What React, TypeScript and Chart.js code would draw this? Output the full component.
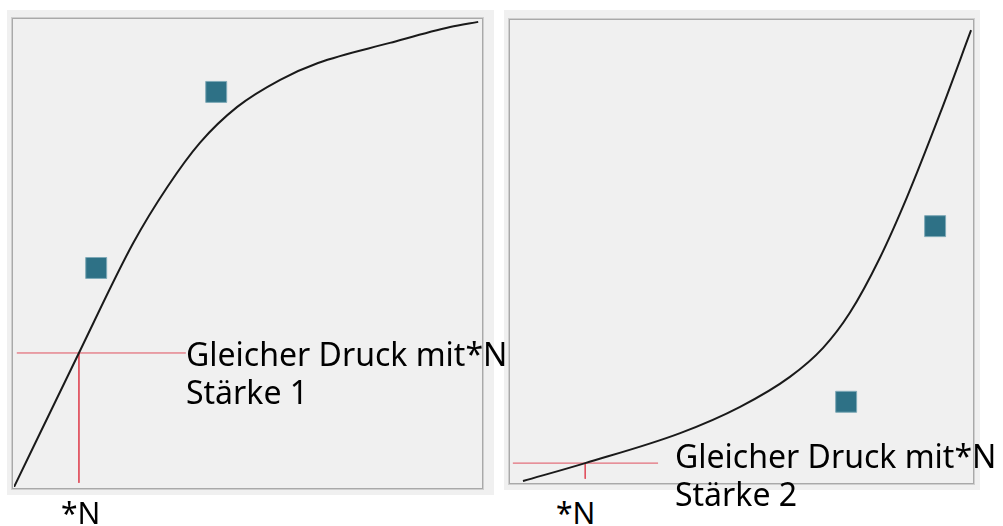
import React, { useEffect, useRef } from "react";
import { Chart, registerables } from "chart.js";

Chart.register(...registerables);

// ---- Data (scale 0..100 on both axes of each panel) ----
const leftCurveX = [0, 13.9, 25.5, 32.8, 39.8, 47.8, 57.0, 65.1, 80.5, 93.4, 99.4];
const leftCurveY = [0, 28.7, 52.2, 64.2, 73.7, 81.4, 87.2, 90.8, 95.1, 98.5, 99.6];
const leftSquaresX = [17.6, 43.3];
const leftSquaresY = [46.9, 84.6];
const leftCrossH = { x: [0.6, 36.8], y: 28.7 };
const leftCrossV = { x: 13.9, y: [28.7, 0.9] };

const rightCurveX = [2.6, 16.1, 36.7, 49.7, 60.5, 67.7, 73.5, 80.0, 85.9, 93.1, 99.8];
const rightCurveY = [0.2, 4.1, 10.6, 16.3, 22.8, 29.1, 36.7, 48.6, 61.8, 80.0, 98.0];
const rightSquaresX = [92.0, 72.7];
const rightSquaresY = [55.5, 17.4];
const rightCrossH = { x: [0.4, 31.9], y: 4.1 };
const rightCrossV = { x: 16.1, y: [4.1, 0.7] };

const leftLabelLines = ["Gleicher Druck mit*N", "Stärke 1"];
const rightLabelLines = ["Gleicher Druck mit*N", "Stärke 2"];
const axisLabel = "*N";

const FONT = '"Noto Sans", "Open Sans", sans-serif';
const PANEL_BG = "#f0f0f0";
const CURVE_COLOR = "#1a1a1a";
const CROSS_COLOR = "#e0505e";
const SQUARE_COLOR = "#2e7186";

const zip = (xs: number[], ys: number[]) => xs.map((x, i) => ({ x, y: ys[i] }));

const panelPlugin = {
  id: "panelFrame",
  beforeDraw(chart: any) {
    const { ctx, width, height, chartArea } = chart;
    ctx.save();
    ctx.fillStyle = PANEL_BG;
    ctx.fillRect(0, 0, width, height);
    const { left, top, right, bottom } = chartArea;
    ctx.strokeStyle = "#cfcfcf";
    ctx.lineWidth = 1;
    ctx.strokeRect(left - 2.5, top - 2.5, right - left + 5, bottom - top + 5);
    ctx.strokeStyle = "#a9a9a9";
    ctx.lineWidth = 1;
    ctx.strokeRect(left - 1.5, top - 1.5, right - left + 3, bottom - top + 3);
    ctx.restore();
  },
};

function makeConfig(
  curveX: number[],
  curveY: number[],
  sqX: number[],
  sqY: number[],
  crossH: { x: number[]; y: number },
  crossV: { x: number; y: number[] },
  padding: { left: number; top: number; right: number; bottom: number }
): any {
  return {
    type: "line",
    data: {
      datasets: [
        {
          type: "scatter",
          data: zip(sqX, sqY),
          pointStyle: "rect",
          pointRadius: 14.8,
          backgroundColor: SQUARE_COLOR,
          borderColor: "#7ea9b7",
          borderWidth: 1,
          showLine: false,
          order: 0,
        },
        {
          data: zip(curveX, curveY),
          borderColor: CURVE_COLOR,
          borderWidth: 2,
          pointRadius: 0,
          cubicInterpolationMode: "monotone",
          fill: false,
          order: 1,
        },
        {
          data: crossH.x.map((x) => ({ x, y: crossH.y })),
          borderColor: CROSS_COLOR,
          borderWidth: 1,
          pointRadius: 0,
          fill: false,
          order: 2,
        },
        {
          data: crossV.y.map((y) => ({ x: crossV.x, y })),
          borderColor: CROSS_COLOR,
          borderWidth: 1,
          pointRadius: 0,
          fill: false,
          order: 2,
        },
      ],
    },
    options: {
      animation: false,
      responsive: false,
      maintainAspectRatio: false,
      events: [],
      layout: { padding, autoPadding: false },
      plugins: { legend: { display: false }, tooltip: { enabled: false } },
      scales: {
        x: { type: "linear", min: 0, max: 100, display: false },
        y: { type: "linear", min: 0, max: 100, display: false },
      },
    },
    plugins: [panelPlugin],
  };
}

const textStyle = (left: number, top: number, size: number): React.CSSProperties => ({
  position: "absolute",
  left,
  top,
  fontFamily: FONT,
  fontSize: size,
  lineHeight: "38px",
  whiteSpace: "pre",
  color: "#000",
  zIndex: 5,
  pointerEvents: "none",
});

export default function App() {
  const leftRef = useRef<HTMLCanvasElement>(null);
  const rightRef = useRef<HTMLCanvasElement>(null);

  useEffect(() => {
    const c1 = new Chart(
      leftRef.current!,
      makeConfig(leftCurveX, leftCurveY, leftSquaresX, leftSquaresY, leftCrossH, leftCrossV, {
        left: 7,
        top: 10,
        right: 13,
        bottom: 8,
      })
    );
    const c2 = new Chart(
      rightRef.current!,
      makeConfig(rightCurveX, rightCurveY, rightSquaresX, rightSquaresY, rightCrossH, rightCrossV, {
        left: 7,
        top: 11,
        right: 8,
        bottom: 8,
      })
    );
    return () => {
      c1.destroy();
      c2.destroy();
    };
  }, []);

  return (
    <div
      style={{
        position: "fixed",
        left: 0,
        top: 0,
        width: 1003,
        height: 526,
        background: "#ffffff",
        overflow: "hidden",
      }}
    >
      <canvas
        ref={leftRef}
        width={487}
        height={485}
        style={{ position: "absolute", left: 7, top: 10, width: 487, height: 485 }}
      />
      <canvas
        ref={rightRef}
        width={476}
        height={480}
        style={{ position: "absolute", left: 504, top: 10, width: 476, height: 480 }}
      />
      <div style={textStyle(186, 335, 32)}>{leftLabelLines.join("\n")}</div>
      <div style={textStyle(675, 437, 32)}>{rightLabelLines.join("\n")}</div>
      <div style={textStyle(61, 494, 30)}>{axisLabel}</div>
      <div style={textStyle(556, 494, 30)}>{axisLabel}</div>
    </div>
  );
}
